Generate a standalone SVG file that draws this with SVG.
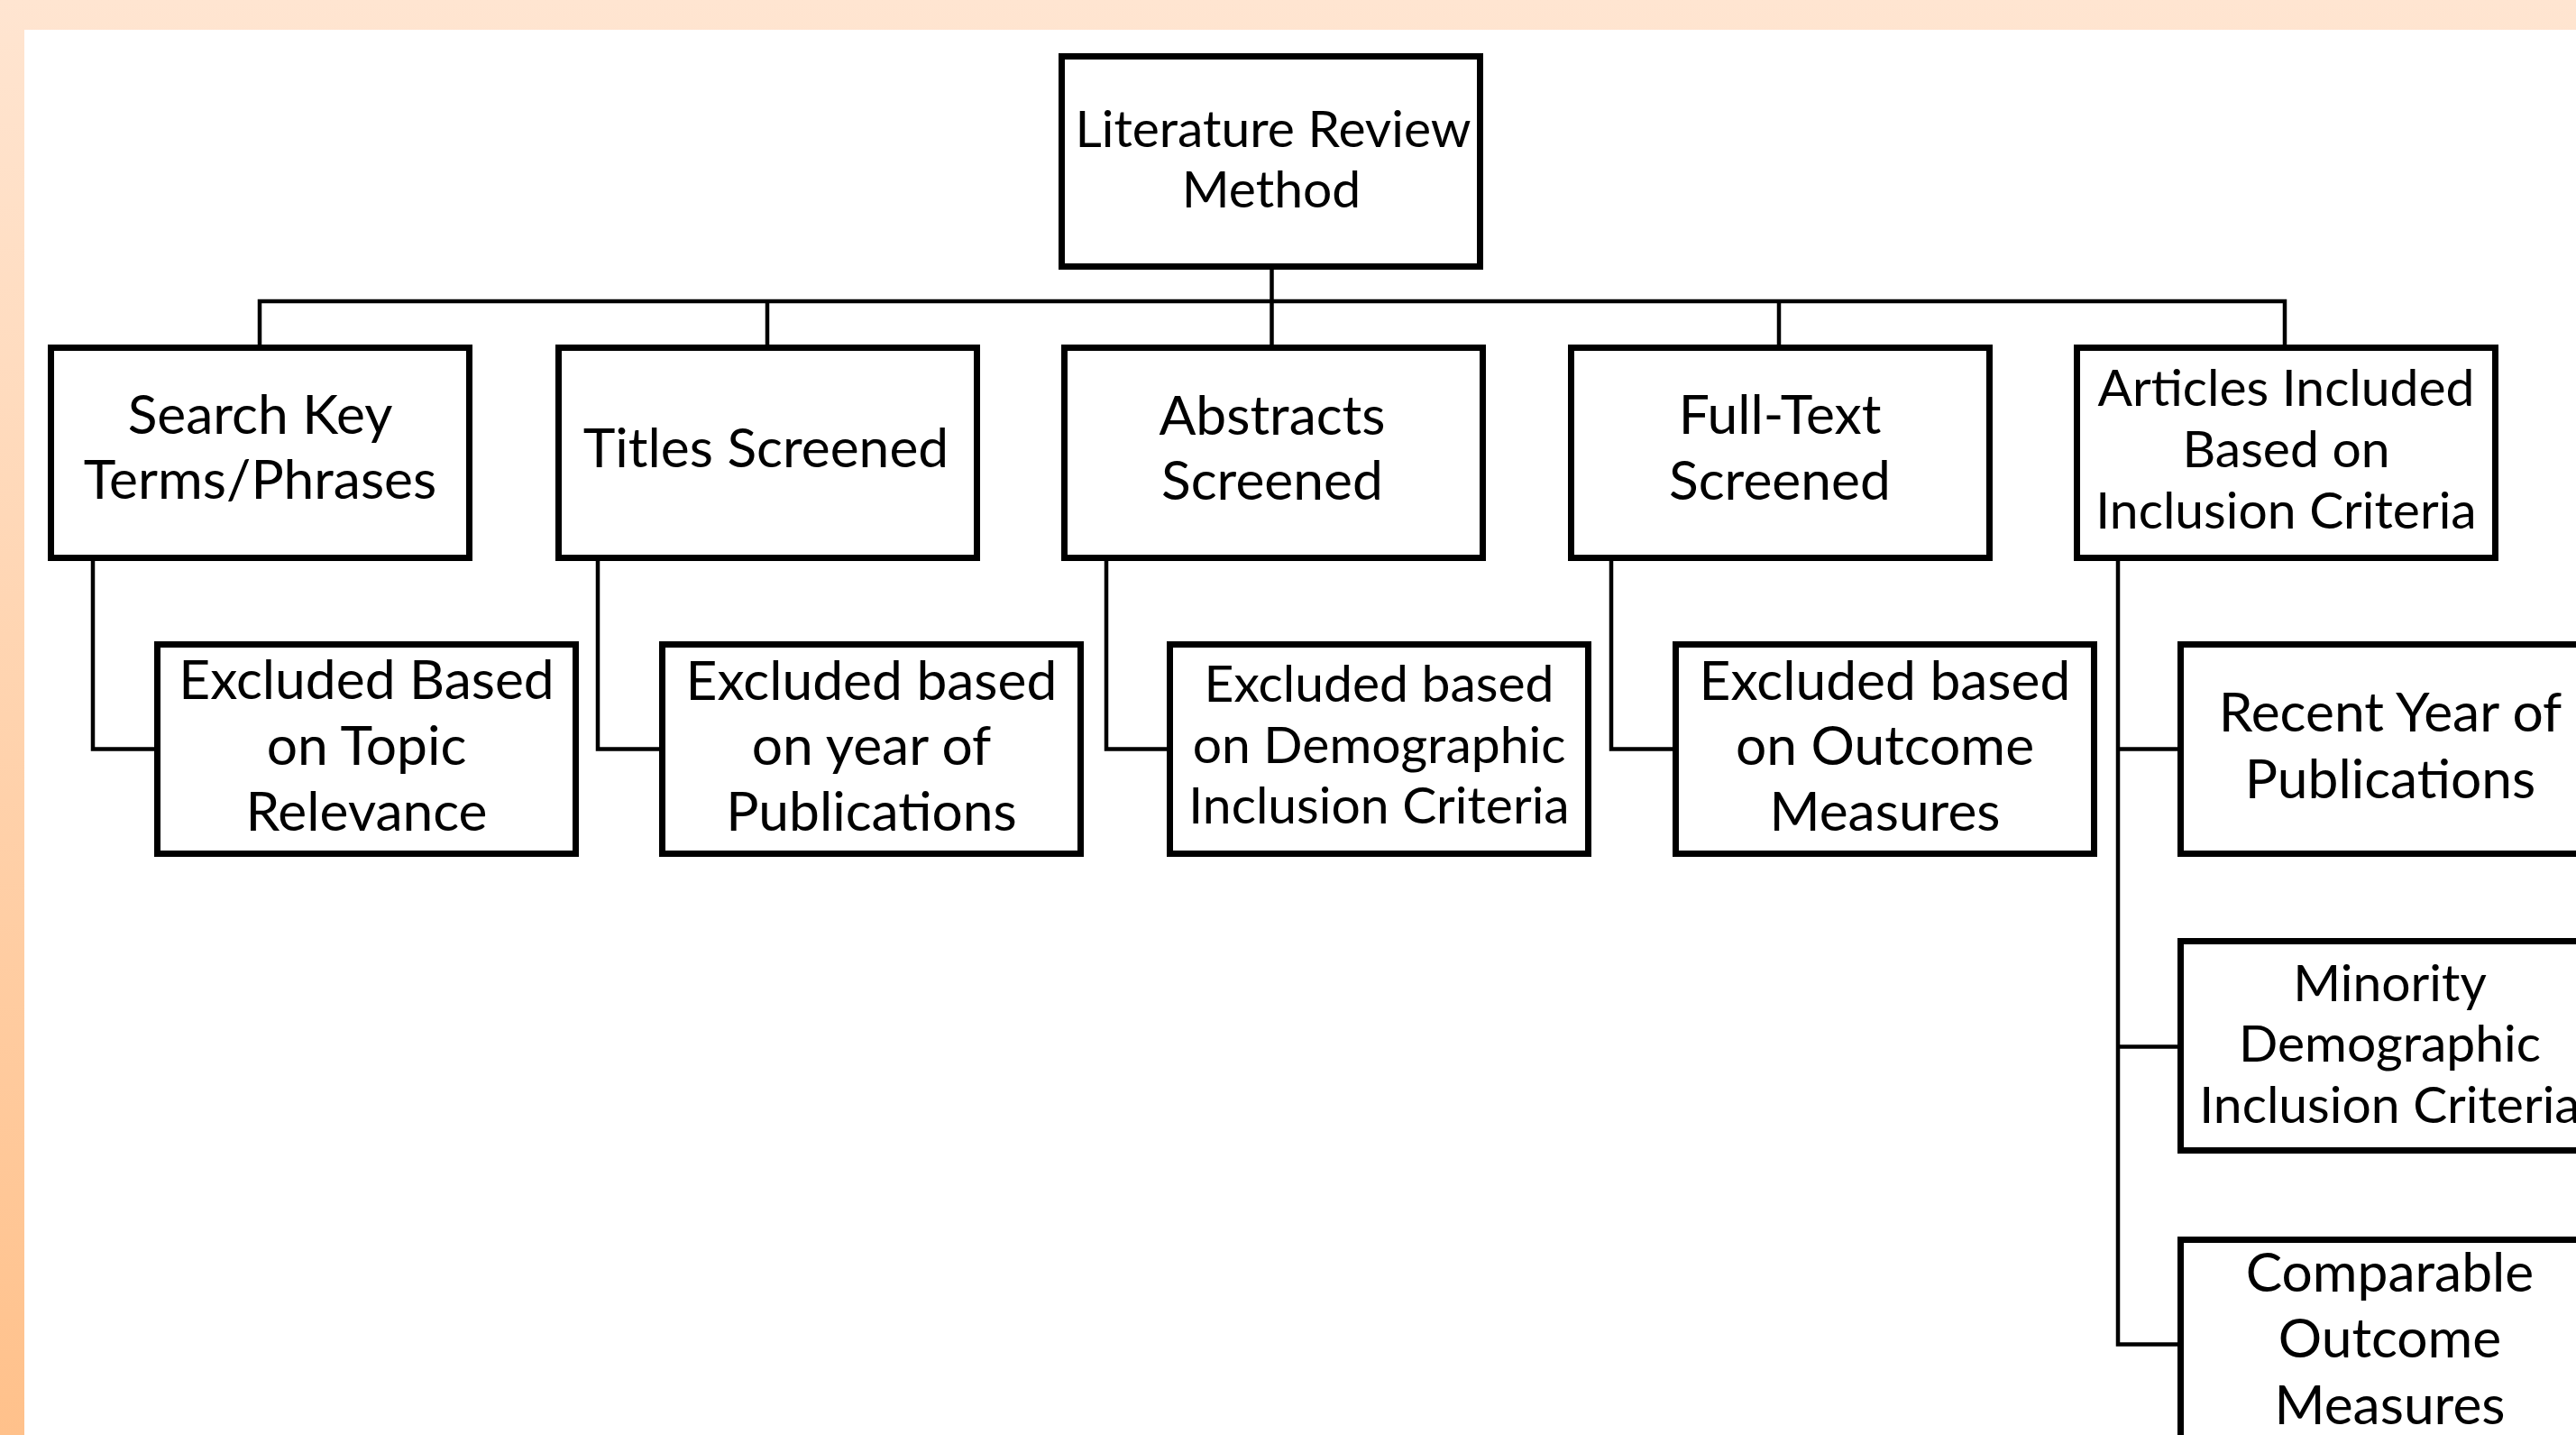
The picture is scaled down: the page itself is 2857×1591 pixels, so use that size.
<svg xmlns="http://www.w3.org/2000/svg" width="2857" height="1591" viewBox="0 0 2857 1591">
  <defs>
    <linearGradient id="bg" x1="0" y1="0" x2="0" y2="1">
      <stop offset="0" stop-color="#FFE5D1"/>
      <stop offset="1" stop-color="#FFC18B"/>
    </linearGradient>
  </defs>
  <style>
    .box { fill: #FFFFFF; stroke: #000000; stroke-width: 7; }
    .conn { fill: none; stroke: #000000; stroke-width: 4.5; stroke-linejoin: miter; stroke-linecap: butt; }
    .lg { font-family: Lato, "Liberation Sans", sans-serif; font-size: 60.5px; fill: #000000; text-anchor: middle; }
    .sm { font-family: Lato, "Liberation Sans", sans-serif; font-size: 57px; fill: #000000; text-anchor: middle; }
  </style>
  <rect x="0" y="0" width="2857" height="1591" fill="url(#bg)"/>
  <rect x="27" y="33" width="2830" height="1558" fill="#FFFFFF"/>

  <g id="connectors">
    <path class="conn" d="M1410.5 299 V382"/>
    <path class="conn" d="M288 382 V334 H2534 V382"/>
    <path class="conn" d="M851 334 V382"/>
    <path class="conn" d="M1973 334 V382"/>
    <path class="conn" d="M103 622 V830.5 H171"/>
    <path class="conn" d="M663 622 V830.5 H731"/>
    <path class="conn" d="M1227 622 V830.5 H1294"/>
    <path class="conn" d="M1787 622 V830.5 H1855"/>
    <path class="conn" d="M2349 621 V1490.5 H2415"/>
    <path class="conn" d="M2349 830.5 H2415"/>
    <path class="conn" d="M2349 1160.5 H2415"/>
  </g>

  <g id="root">
    <rect class="box" x="1177.5" y="62.5" width="464" height="233"/>
    <text class="sm" x="1412" y="163">Literature Review</text>
    <text class="sm" x="1410" y="230">Method</text>
  </g>

  <g id="search">
    <rect class="box" x="56.5" y="385.5" width="464" height="233"/>
    <text class="lg" x="288.5" y="481">Search Key</text>
    <text class="lg" x="288.5" y="553">Terms/Phrases</text>
  </g>
  <g id="titles">
    <rect class="box" x="619.5" y="385.5" width="464" height="233"/>
    <text class="lg" x="849.5" y="518">Titles Screened</text>
  </g>
  <g id="abstracts">
    <rect class="box" x="1180.5" y="385.5" width="464" height="233"/>
    <text class="lg" x="1411" y="481.5">Abstracts</text>
    <text class="lg" x="1411" y="554">Screened</text>
  </g>
  <g id="fulltext">
    <rect class="box" x="1742.5" y="385.5" width="464" height="233"/>
    <text class="lg" x="1974" y="480.5">Full-Text</text>
    <text class="lg" x="1974" y="553.5">Screened</text>
  </g>
  <g id="articles">
    <rect class="box" x="2303.5" y="385.5" width="464" height="233"/>
    <text class="sm" x="2535.5" y="449.5">Articles Included</text>
    <text class="sm" x="2535.5" y="518">Based on</text>
    <text class="sm" x="2535.5" y="585.5">Inclusion Criteria</text>
  </g>

  <g id="excl-topic">
    <rect class="box" x="174.5" y="714.5" width="464" height="232"/>
    <text class="lg" x="406.5" y="775">Excluded Based</text>
    <text class="lg" x="406.5" y="848">on Topic</text>
    <text class="lg" x="406.5" y="921">Relevance</text>
  </g>
  <g id="excl-year">
    <rect class="box" x="734.5" y="714.5" width="464" height="232"/>
    <text class="lg" x="966.5" y="776">Excluded based</text>
    <text class="lg" x="966.5" y="848">on year of</text>
    <text class="lg" x="966.5" y="921">Publications</text>
  </g>
  <g id="excl-demographic">
    <rect class="box" x="1297.5" y="714.5" width="464" height="232"/>
    <text class="sm" x="1529.5" y="778">Excluded based</text>
    <text class="sm" x="1529.5" y="845.5">on Demographic</text>
    <text class="sm" x="1529.5" y="912.5">Inclusion Criteria</text>
  </g>
  <g id="excl-outcome">
    <rect class="box" x="1858.5" y="714.5" width="464" height="232"/>
    <text class="lg" x="2090.5" y="776">Excluded based</text>
    <text class="lg" x="2090.5" y="848">on Outcome</text>
    <text class="lg" x="2090.5" y="920.5">Measures</text>
  </g>

  <g id="recent-year">
    <rect class="box" x="2418.5" y="714.5" width="464" height="232"/>
    <text class="lg" x="2651" y="811">Recent Year of</text>
    <text class="lg" x="2651" y="884.5">Publications</text>
  </g>
  <g id="minority">
    <rect class="box" x="2418.5" y="1043.5" width="464" height="232"/>
    <text class="sm" x="2650.5" y="1110">Minority</text>
    <text class="sm" x="2650.5" y="1177">Demographic</text>
    <text class="sm" x="2650.5" y="1245">Inclusion Criteria</text>
  </g>
  <g id="comparable">
    <rect class="box" x="2418.5" y="1374.5" width="464" height="232"/>
    <text class="lg" x="2650.5" y="1431.5">Comparable</text>
    <text class="lg" x="2650.5" y="1505">Outcome</text>
    <text class="lg" x="2650.5" y="1578.5">Measures</text>
  </g>
</svg>
